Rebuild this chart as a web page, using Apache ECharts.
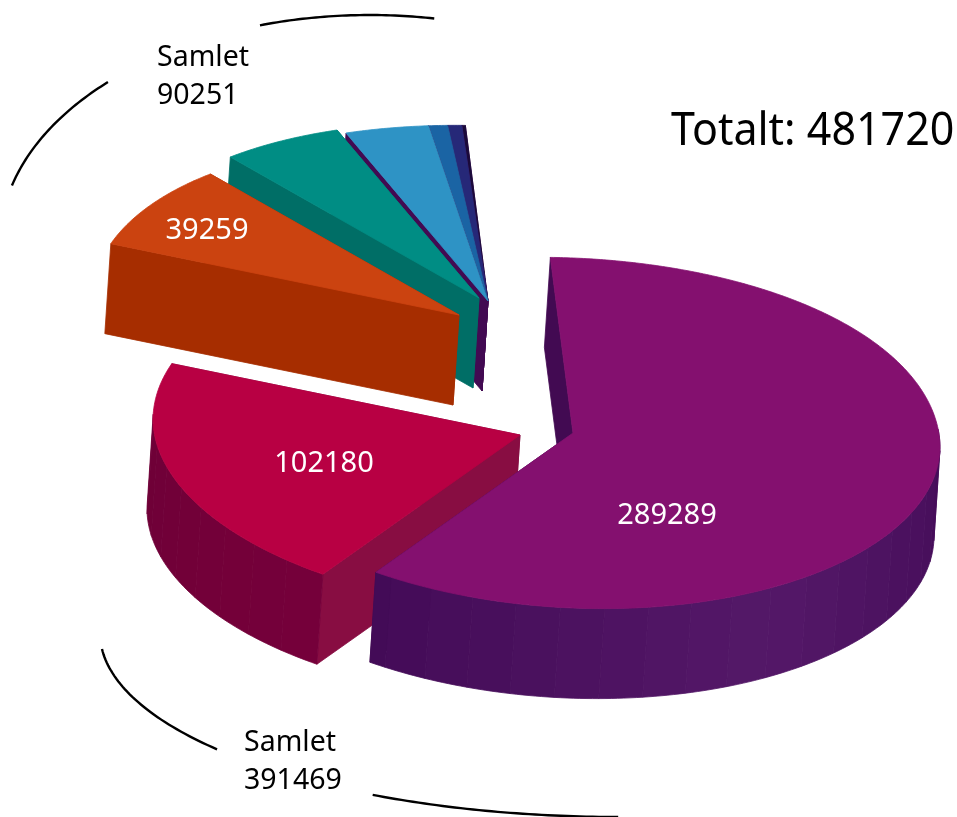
<!DOCTYPE html>
<html>
<head>
<meta charset="utf-8">
<style>html,body{margin:0;padding:0;background:#fff}#chart{width:957px;height:817px}</style>
<script src="https://cdn.jsdelivr.net/npm/echarts@6/dist/echarts.min.js"></script>
</head>
<body>
<div id="chart"></div>
<script>
// values, clockwise from the big purple slice
const sliceValues = [289289, 102180, 39259, 26150, 17370, 3894, 2850, 728];
const shownLabels = [true, true, true, false, false, false, false, false];
const totalText = 'Totalt: 481720';
const groupTexts = [['Samlet', '90251'], ['Samlet', '391469']];

// look of each slice
const topColors = ['#84106f', '#b80043', '#cb4310', '#008d84', '#2e93c5', '#1a64a4', '#262878', '#1a0a3a'];
const edgeColors = ['#420a52', '#880d42', '#a62d00', '#006e66', '#420a52', '#420a52', '#420a52', '#420a52'];
const rimLight = ['#541868', '#75003a', '#a62d00', '#006e66', '#420a52', '#420a52', '#420a52', '#420a52'];
const rimDark = ['#430b57', '#6d0036', '#a62d00', '#006e66', '#420a52', '#420a52', '#420a52', '#420a52'];
const rimPeak = [145, 215, 0, 0, 0, 0, 0, 0];
const apexes = [[573, 433], [520, 435], [459, 315], [479, 298], [488, 301], [488, 301], [488, 301], [488, 301]];
const labelSpots = [[667, 516], [324, 464], [207, 231]];

// pie tilt
const RX = 367, RY = 175, SHEAR = 0.04, BACK_GROW = 0.04, FRONT_SHRINK = 0.01, DEPTH = 90, DROP_X = -6, START_DEG = -3.4;

// bracket arcs: [cx, cy, rx, ry, fromDeg, toDeg]
const bracketArcs = [
  [370, 243, 370, 228, -75.4, -45.1],
  [370, 243, 370, 228, -17.3, 10],
  [620, 633, 520, 184, 265, 230.8],
  [620, 633, 520, 184, 208.4, 180.2]
];

const total = sliceValues.reduce((a, b) => a + b, 0);
const cumulative = [];
sliceValues.reduce((sum, v, i) => (cumulative[i] = sum) + v, 0);

const rad = d => d * Math.PI / 180;
const rim = (apex, deg) => {
  const c = Math.cos(rad(deg));
  const grow = c > 0 ? BACK_GROW * c * c : FRONT_SHRINK * c;
  const dx = RX * (1 + grow) * Math.sin(rad(deg));
  return [apex[0] + dx, apex[1] - RY * c + SHEAR * dx];
};
const down = p => [p[0] + DROP_X, p[1] + DEPTH];
const mix = (a, b, t) => {
  const c = s => [1, 3, 5].map(i => parseInt(s.substr(i, 2), 16));
  const ca = c(a), cb = c(b);
  return 'rgb(' + ca.map((v, i) => Math.round(v + (cb[i] - v) * t)).join(',') + ')';
};
const face = (points, color) => ({
  type: 'polygon',
  shape: {points},
  style: {fill: color, stroke: color, lineWidth: 0.8}
});

const renderSlice = (params, api) => {
  const i = api.value(2);
  const from = START_DEG + api.value(0) / total * 360;
  const to = from + api.value(1) / total * 360;
  const apex = apexes[i];
  const wall = deg => {
    const p = rim(apex, deg);
    return [apex, p, down(p), down(apex)];
  };
  const children = [face(wall(to), edgeColors[i]), face(wall(from), edgeColors[i])];

  // outer wall, only the part turned to the viewer, in small bands
  const step = 7;
  for (let a = Math.max(from, 84); a < Math.min(to, 272); a += step) {
    const b = Math.min(a + step, to, 272);
    const t = 1 - Math.abs(a - rimPeak[i]) / 65;
    const pts = [];
    for (let d = a; d < b; d += 1) pts.push(rim(apex, d));
    pts.push(rim(apex, b));
    const low = pts.map(down).reverse();
    children.push(face(pts.concat(low), mix(rimDark[i], rimLight[i], Math.max(t, 0))));
  }

  const top = [apex];
  for (let d = from; d < to; d += 0.5) top.push(rim(apex, d));
  top.push(rim(apex, to));
  children.push(face(top, topColors[i]));

  if (shownLabels[i]) {
    children.push({
      type: 'text',
      style: {
        x: labelSpots[i][0], y: labelSpots[i][1],
        text: String(sliceValues[i]),
        fill: '#fff',
        font: '29px "Noto Sans"',
        align: 'center', verticalAlign: 'middle'
      }
    });
  }
  return {type: 'group', children};
};

const renderArc = (params, api) => {
  const arc = bracketArcs[api.value(0)];
  const pts = [];
  const n = 40;
  for (let k = 0; k <= n; k++) {
    const d = arc[4] + (arc[5] - arc[4]) * k / n;
    pts.push([arc[0] + arc[2] * Math.sin(rad(d)), arc[1] - arc[3] * Math.cos(rad(d))]);
  }
  return {type: 'polyline', shape: {points: pts}, style: {fill: 'none', stroke: '#000', lineWidth: 2.4}};
};

// back slices first, purple last
const sliceData = sliceValues.map((v, i) => [cumulative[i], v, i]).reverse();

const chart = echarts.init(document.getElementById('chart'), null, {renderer: 'canvas'});
chart.setOption({
  animation: false,
  backgroundColor: '#fff',
  series: [
    {type: 'custom', coordinateSystem: 'none', silent: true, data: sliceData, renderItem: renderSlice},
    {type: 'custom', coordinateSystem: 'none', silent: true, data: bracketArcs.map((a, i) => [i]), renderItem: renderArc}
  ],
  graphic: [
    {type: 'text', x: 671, y: 110, scaleX: 0.955, style: {text: totalText, font: '45px "Noto Sans"', fill: '#000'}},
    {type: 'text', left: 157, top: 39, style: {text: groupTexts[0].join('\n'), font: '28.5px "Noto Sans"', lineHeight: 38, fill: '#000'}},
    {type: 'text', left: 244, top: 724, style: {text: groupTexts[1].join('\n'), font: '28.5px "Noto Sans"', lineHeight: 38, fill: '#000'}}
  ]
});
</script>
</body>
</html>
